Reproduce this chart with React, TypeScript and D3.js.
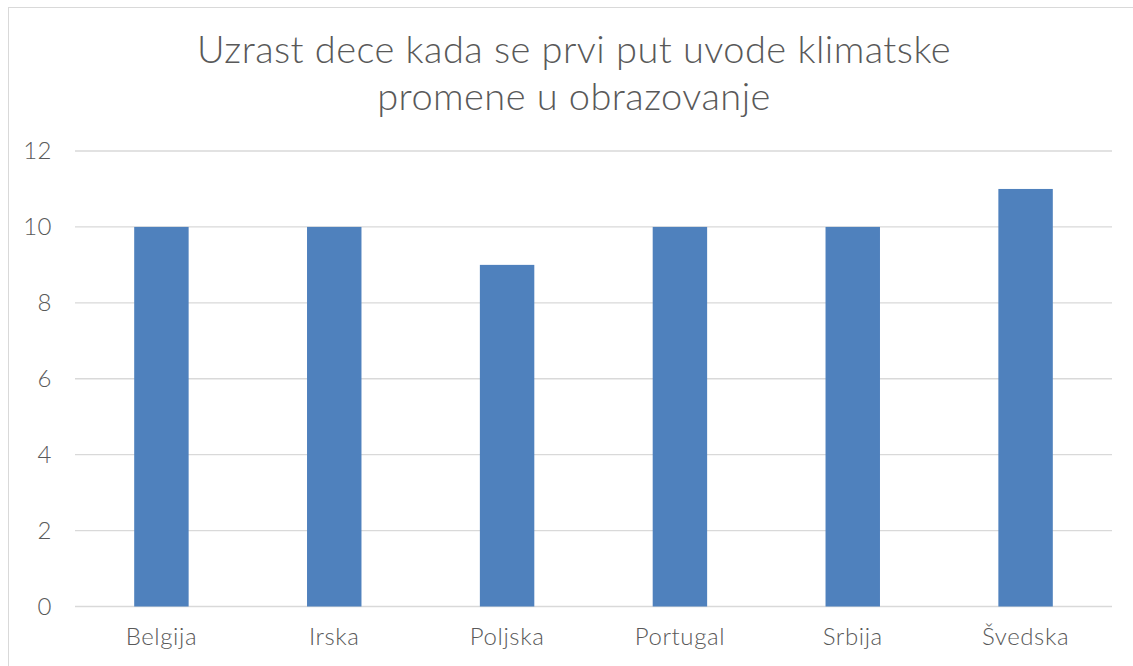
import React from "react";
import * as d3 from "d3";

const categories = ["Belgija", "Irska", "Poljska", "Portugal", "Srbija", "Švedska"];
const values = [10, 10, 9, 10, 10, 11];
const yTicks = [0, 2, 4, 6, 8, 10, 12];
const titleLines = ["Uzrast dece kada se prvi put uvode klimatske", "promene u obrazovanje"];

export default function App() {
  const W = 1133, H = 666;
  const left = 75, right = 1112, top = 151, bottom = 606.5;
  const x = d3.scaleBand<string>().domain(categories).range([left, right]).paddingInner(0.685).paddingOuter(0.3425);
  const y = d3.scaleLinear().domain([0, 12]).range([bottom, top]);
  const font = "Lato, 'Open Sans', sans-serif";
  return (
    <svg width={W} height={H} style={{ position: "absolute", left: 0, top: 0 }}>
      <rect x={0} y={0} width={W} height={H} fill="#fff" />
      <rect x={8.5} y={7.5} width={W + 10} height={H + 10} fill="none" stroke="#d9d9d9" strokeWidth={1} />
      {titleLines.map((t, i) => (
        <text key={i} x={574} y={63 + i * 47} textAnchor="middle" fontFamily={font} fontWeight={300} fontSize={38} letterSpacing={0.45} fill="#595959">{t}</text>
      ))}
      {yTicks.map((t) => (
        <g key={t}>
          <line x1={left} x2={right} y1={y(t)} y2={y(t)} stroke="#d9d9d9" strokeWidth={1.3} />
          <text x={52} y={y(t)} dy="0.35em" textAnchor="end" fontFamily={font} fontWeight={300} fontSize={24} letterSpacing={0.5} fill="#595959">{t}</text>
        </g>
      ))}
      {categories.map((c, i) => (
        <g key={c}>
          <rect x={x(c)} y={y(values[i])} width={x.bandwidth()} height={y(0) - y(values[i])} fill="#4f81bd" />
          <text x={(x(c) as number) + x.bandwidth() / 2} y={645} textAnchor="middle" fontFamily={font} fontWeight={300} fontSize={24} letterSpacing={0.6} fill="#595959">{c}</text>
        </g>
      ))}
    </svg>
  );
}
